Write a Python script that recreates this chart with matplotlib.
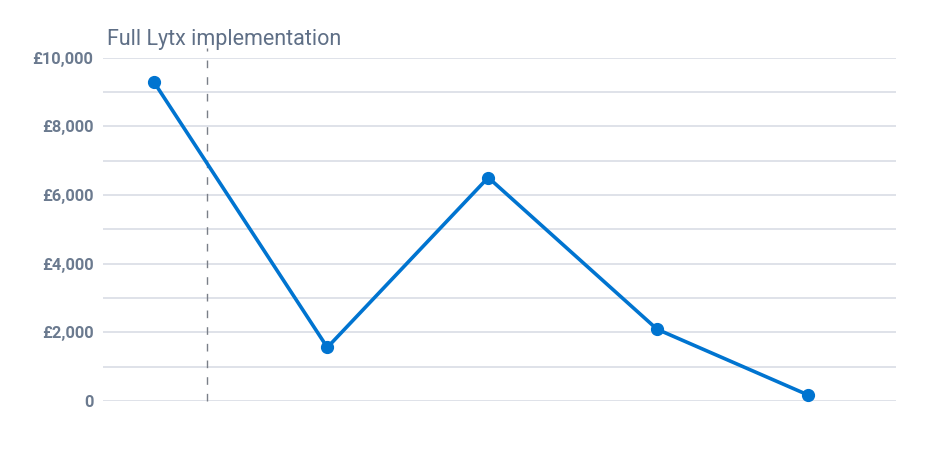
import matplotlib
matplotlib.use("Agg")
import matplotlib.pyplot as plt
from matplotlib.ticker import MultipleLocator, FuncFormatter

# Data
x_pos = [0.64, 2.83, 4.86, 6.99, 8.89]
values = [9300, 1560, 6510, 2090, 180]
marker_x = 1.31
annotation = "Full Lytx implementation"
y_ticks = [0, 2000, 4000, 6000, 8000, 10000]

plt.rcParams['font.family'] = ['Roboto', 'DejaVu Sans']

fig = plt.figure(figsize=(9.27, 4.54), dpi=100)
ax = fig.add_axes([103/927, 53/454, (895.7-103)/927, (401-57.7)/454])

ax.set_xlim(0, 10)
ax.set_ylim(0, 10000)

ax.yaxis.set_minor_locator(MultipleLocator(1000))
ax.set_yticks(y_ticks)
ax.yaxis.set_major_formatter(FuncFormatter(lambda v, p: "0" if v == 0 else f"£{int(v):,}"))
ax.grid(True, which='both', axis='y', color='#d9dde5', linewidth=1.2)
ax.set_axisbelow(True)
ax.tick_params(axis='y', which='both', length=0, pad=7, labelsize=11.8, labelcolor='#6b7a8f')
for lab in ax.get_yticklabels():
    lab.set_fontweight('semibold')
ax.set_xticks([])
for s in ax.spines.values():
    s.set_visible(False)

ax.plot([marker_x, marker_x], [0, 10280], color='#7a7f88', linewidth=1.0,
        linestyle=(0, (5.5, 6.5)), clip_on=False, zorder=2)
ax.text(0.05, 10370, annotation, fontsize=15.5, color='#5f6f86',
        ha='left', va='baseline')

ax.plot(x_pos, values, color='#0074d0', linewidth=2.6, marker='o', markersize=8.5,
        clip_on=False, zorder=3)

fig.savefig("out.png", dpi=100)
